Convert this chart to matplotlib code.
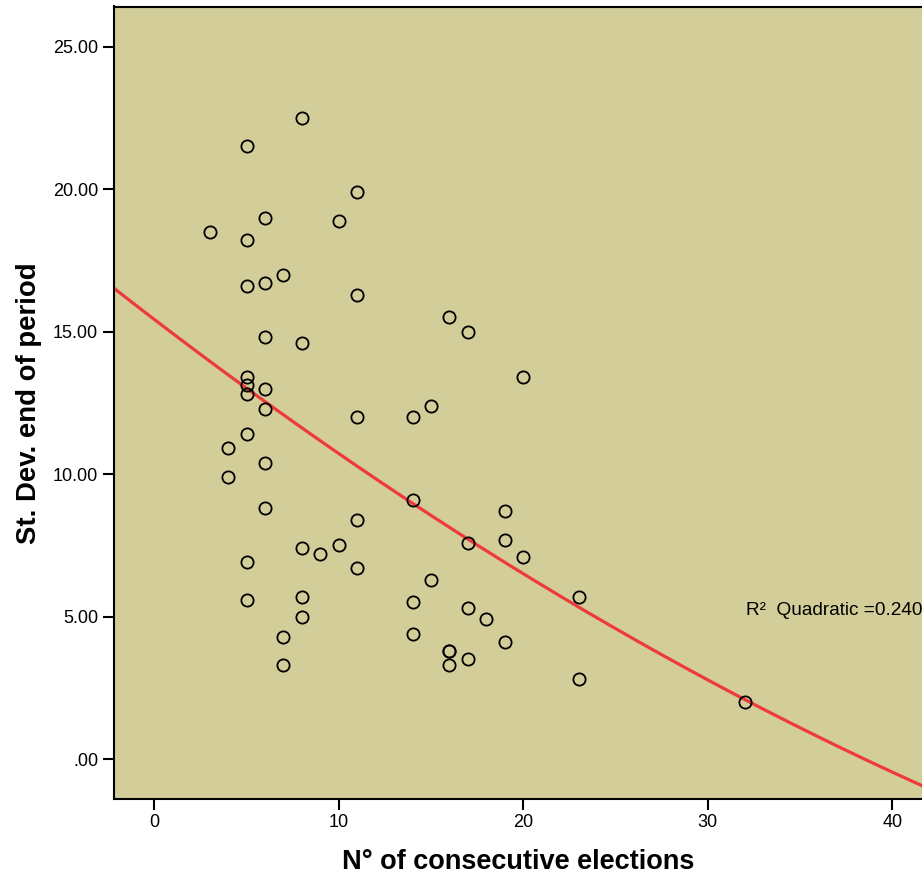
import numpy as np
import matplotlib.pyplot as plt

plt.rcParams['font.family'] = ['Liberation Sans', 'DejaVu Sans']

# N of consecutive elections vs st. dev. at end of period
elections = [3,
             4, 4,
             5, 5, 5, 5, 5, 5, 5, 5, 5,
             6, 6, 6, 6, 6, 6, 6,
             7, 7, 7,
             8, 8, 8, 8, 8,
             9,
             10, 10,
             11, 11, 11, 11, 11,
             14, 14, 14, 14,
             15, 15,
             16, 16, 16, 16,
             17, 17, 17, 17,
             18,
             19, 19, 19,
             20, 20,
             23, 23,
             32]
std_dev = [18.5,
           10.9, 9.9,
           21.5, 18.2, 16.6, 13.4, 13.13, 12.8, 11.4, 6.9, 5.6,
           19.0, 16.7, 14.8, 13.0, 12.3, 10.4, 8.8,
           17.0, 4.3, 3.3,
           22.5, 14.6, 7.4, 5.7, 5.0,
           7.2,
           18.9, 7.5,
           19.9, 16.3, 12.0, 8.4, 6.7,
           12.0, 9.1, 5.5, 4.4,
           12.4, 6.3,
           15.5, 3.8, 3.8, 3.3,
           15.0, 7.6, 5.3, 3.5,
           4.9,
           8.7, 7.7, 4.1,
           13.4, 7.1,
           5.7, 2.8,
           2.0]
r2_label = 'R\u00b2  Quadratic =0.240'

x = np.array(elections, dtype=float)
y = np.array(std_dev)

# quadratic fit line
coef = np.polyfit(x, y, 2)

fig = plt.figure(figsize=(9.22, 8.81), dpi=100)
ax = fig.add_axes([113.5 / 922, 1 - 799 / 881, 1 - 113.5 / 922, (799 - 6.5) / 881])
ax.set_facecolor('#d3ce99')

xs = np.linspace(-3, 43, 300)
ax.plot(xs, np.polyval(coef, xs), color='#ee3a3a', lw=2.3, zorder=2)
ax.plot(x, y, 'o', mfc='none', mec='black', mew=1.3, ms=8.8, zorder=3)

ax.set_xlim(-2.21, 41.61)
ax.set_ylim(-1.40, 26.41)
ax.set_xticks([0, 10, 20, 30, 40])
ax.set_yticks([0, 5, 10, 15, 20, 25])
ax.set_yticklabels(['.00', '5.00', '10.00', '15.00', '20.00', '25.00'])

for s in ['left', 'bottom', 'top']:
    ax.spines[s].set_linewidth(1.5)
ax.spines['right'].set_visible(False)
ax.tick_params(direction='out', length=8, width=1.5, labelsize=13, pad=3)

ax.text(32.07, 5.2, r2_label, fontsize=13.7, va='center', ha='left')

ax.set_xlabel('N\u00b0 of consecutive elections', fontsize=19.5, fontweight='bold', labelpad=13)
ax.set_ylabel('St. Dev. end of period', fontsize=19.8, fontweight='bold', labelpad=8)

fig.savefig('out.png', dpi=100)
